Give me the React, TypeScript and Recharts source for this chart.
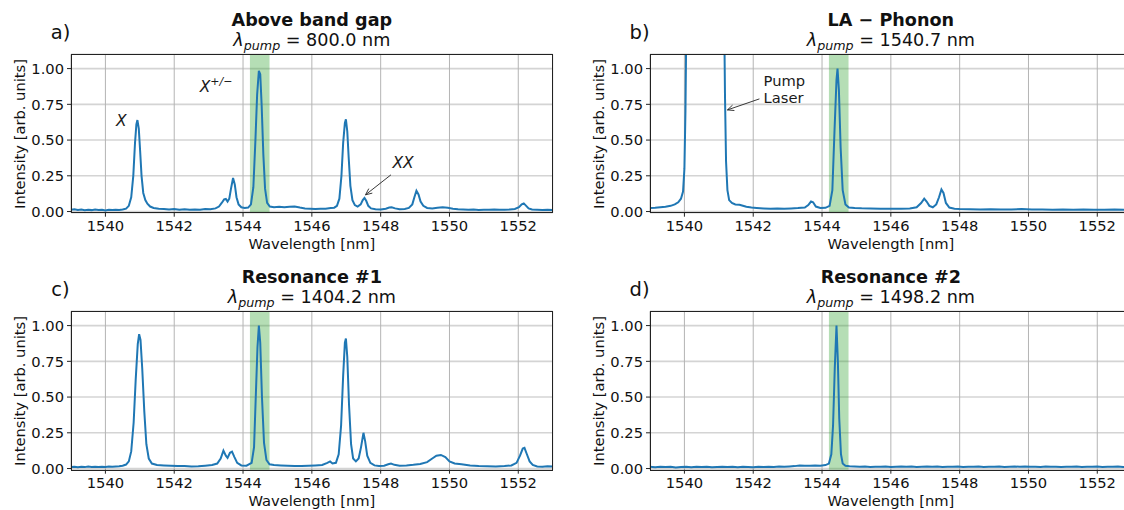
import React from "react";
import {
  LineChart,
  Line,
  XAxis,
  YAxis,
  CartesianGrid,
  ReferenceArea,
  ReferenceLine,
  ReferenceDot,
} from "recharts";

const FONT = '"DejaVu Sans", Verdana, sans-serif';
const BLUE = "#1f77b4";

const wavelengthTicks = [1540, 1542, 1544, 1546, 1548, 1550, 1552];
const intensityTicks = [0, 0.25, 0.5, 0.75, 1];
const pumpBand = [1544.2, 1544.77];

const panelLetters = ["a)", "b)", "c)", "d)"];
const panelTitles = ["Above band gap", "LA \u2212 Phonon", "Resonance #1", "Resonance #2"];
const pumpWavelengths = ["800.0", "1540.7", "1404.2", "1498.2"];

// [wavelength nm, intensity]
const spectrumA: [number, number][] = [
  [1539.0, 0.012], [1539.1, 0.016], [1539.2, 0.011], [1539.3, 0.014], [1539.4, 0.009],
  [1539.5, 0.013], [1539.6, 0.01], [1539.7, 0.015], [1539.8, 0.011], [1539.9, 0.012],
  [1540.0, 0.008], [1540.1, 0.013], [1540.2, 0.01], [1540.3, 0.012], [1540.4, 0.011],
  [1540.5, 0.014], [1540.6, 0.02], [1540.68, 0.04], [1540.75, 0.1], [1540.81, 0.25],
  [1540.86, 0.48], [1540.9, 0.61], [1540.93, 0.64], [1540.97, 0.58], [1541.01, 0.42],
  [1541.05, 0.25], [1541.1, 0.13], [1541.16, 0.08], [1541.22, 0.055], [1541.3, 0.035],
  [1541.4, 0.025], [1541.55, 0.02], [1541.7, 0.018], [1541.85, 0.015], [1542.0, 0.017],
  [1542.15, 0.013], [1542.3, 0.016], [1542.45, 0.012], [1542.6, 0.015], [1542.75, 0.013],
  [1542.9, 0.017], [1543.05, 0.016], [1543.2, 0.022], [1543.3, 0.035], [1543.38, 0.06],
  [1543.45, 0.085], [1543.5, 0.088], [1543.55, 0.07], [1543.6, 0.09], [1543.65, 0.16],
  [1543.71, 0.235], [1543.76, 0.19], [1543.81, 0.1], [1543.87, 0.05], [1543.95, 0.03],
  [1544.05, 0.025], [1544.15, 0.028], [1544.23, 0.05], [1544.3, 0.17], [1544.36, 0.5],
  [1544.41, 0.82], [1544.46, 0.985], [1544.5, 0.96], [1544.54, 0.75], [1544.59, 0.4],
  [1544.64, 0.16], [1544.7, 0.06], [1544.78, 0.035], [1544.9, 0.03], [1545.05, 0.033],
  [1545.2, 0.03], [1545.35, 0.034], [1545.5, 0.036], [1545.65, 0.028], [1545.8, 0.022],
  [1545.95, 0.02], [1546.1, 0.018], [1546.25, 0.02], [1546.4, 0.019], [1546.55, 0.024],
  [1546.65, 0.027], [1546.73, 0.04], [1546.8, 0.09], [1546.86, 0.25], [1546.91, 0.48],
  [1546.96, 0.62], [1546.99, 0.645], [1547.03, 0.56], [1547.07, 0.38], [1547.12, 0.18],
  [1547.18, 0.08], [1547.25, 0.045], [1547.33, 0.035], [1547.42, 0.05], [1547.48, 0.08],
  [1547.53, 0.095], [1547.58, 0.075], [1547.64, 0.04], [1547.72, 0.022], [1547.85, 0.016],
  [1548.0, 0.015], [1548.15, 0.02], [1548.25, 0.028], [1548.32, 0.03], [1548.42, 0.022],
  [1548.55, 0.016], [1548.7, 0.018], [1548.82, 0.025], [1548.92, 0.05], [1548.98, 0.1],
  [1549.04, 0.145], [1549.1, 0.12], [1549.16, 0.07], [1549.24, 0.04], [1549.35, 0.025],
  [1549.5, 0.022], [1549.65, 0.027], [1549.8, 0.03], [1549.95, 0.026], [1550.1, 0.02],
  [1550.25, 0.016], [1550.4, 0.014], [1550.55, 0.012], [1550.7, 0.014], [1550.85, 0.011],
  [1551.0, 0.013], [1551.15, 0.012], [1551.3, 0.014], [1551.45, 0.012], [1551.6, 0.013],
  [1551.75, 0.015], [1551.9, 0.018], [1552.02, 0.03], [1552.1, 0.05], [1552.16, 0.057],
  [1552.23, 0.04], [1552.3, 0.022], [1552.4, 0.014], [1552.55, 0.012], [1552.7, 0.01],
  [1552.85, 0.012], [1553.0, 0.01],
];

// pump laser goes far off scale between ~1540.05 and ~1541.17
const spectrumB: [number, number][] = [
  [1539.0, 0.025], [1539.15, 0.027], [1539.3, 0.03], [1539.45, 0.033], [1539.6, 0.04],
  [1539.72, 0.05], [1539.82, 0.065], [1539.9, 0.09], [1539.96, 0.14], [1540.0, 0.3],
  [1540.03, 0.7], [1540.06, 1.4], [1540.1, 3.0], [1540.3, 6.0], [1540.6, 8.0],
  [1540.9, 6.0], [1541.1, 3.0], [1541.15, 1.5], [1541.18, 0.8], [1541.21, 0.35],
  [1541.25, 0.15], [1541.3, 0.08], [1541.38, 0.06], [1541.48, 0.05], [1541.6, 0.047],
  [1541.7, 0.04], [1541.8, 0.033], [1541.95, 0.028], [1542.1, 0.025], [1542.3, 0.022],
  [1542.5, 0.02], [1542.7, 0.021], [1542.9, 0.019], [1543.1, 0.022], [1543.3, 0.024],
  [1543.5, 0.028], [1543.6, 0.045], [1543.68, 0.07], [1543.74, 0.065], [1543.82, 0.035],
  [1543.95, 0.025], [1544.1, 0.026], [1544.22, 0.04], [1544.3, 0.15], [1544.36, 0.55],
  [1544.42, 0.92], [1544.45, 1.0], [1544.49, 0.85], [1544.54, 0.45], [1544.6, 0.15],
  [1544.68, 0.05], [1544.78, 0.028], [1544.95, 0.025], [1545.15, 0.023], [1545.4, 0.022],
  [1545.7, 0.02], [1546.0, 0.019], [1546.3, 0.02], [1546.55, 0.022], [1546.75, 0.03],
  [1546.88, 0.06], [1546.97, 0.09], [1547.04, 0.07], [1547.12, 0.04], [1547.22, 0.03],
  [1547.32, 0.05], [1547.4, 0.1], [1547.47, 0.155], [1547.53, 0.13], [1547.6, 0.06],
  [1547.7, 0.028], [1547.85, 0.02], [1548.0, 0.018], [1548.3, 0.016], [1548.6, 0.015],
  [1548.9, 0.016], [1549.2, 0.014], [1549.5, 0.015], [1549.8, 0.017], [1550.1, 0.014],
  [1550.4, 0.015], [1550.7, 0.013], [1551.0, 0.014], [1551.3, 0.012], [1551.6, 0.014],
  [1551.9, 0.013], [1552.2, 0.012], [1552.5, 0.014], [1552.8, 0.012], [1553.0, 0.013],
];

const spectrumC: [number, number][] = [
  [1539.0, 0.01], [1539.1, 0.013], [1539.2, 0.009], [1539.3, 0.012], [1539.4, 0.01],
  [1539.5, 0.014], [1539.6, 0.011], [1539.7, 0.013], [1539.8, 0.01], [1539.9, 0.012],
  [1540.0, 0.011], [1540.1, 0.014], [1540.2, 0.012], [1540.3, 0.015], [1540.4, 0.016],
  [1540.5, 0.02], [1540.6, 0.028], [1540.68, 0.05], [1540.75, 0.12], [1540.82, 0.32],
  [1540.88, 0.62], [1540.94, 0.87], [1540.98, 0.94], [1541.02, 0.9], [1541.07, 0.7],
  [1541.13, 0.4], [1541.19, 0.17], [1541.26, 0.07], [1541.35, 0.035], [1541.5, 0.025],
  [1541.7, 0.022], [1541.9, 0.02], [1542.1, 0.018], [1542.3, 0.017], [1542.5, 0.014],
  [1542.7, 0.016], [1542.9, 0.02], [1543.1, 0.025], [1543.25, 0.035], [1543.35, 0.07],
  [1543.43, 0.125], [1543.5, 0.09], [1543.55, 0.075], [1543.62, 0.11], [1543.68, 0.118],
  [1543.75, 0.08], [1543.83, 0.04], [1543.95, 0.022], [1544.1, 0.02], [1544.25, 0.04],
  [1544.32, 0.15], [1544.37, 0.5], [1544.42, 0.85], [1544.46, 1.0], [1544.5, 0.88],
  [1544.55, 0.5], [1544.61, 0.18], [1544.68, 0.06], [1544.77, 0.03], [1544.9, 0.025],
  [1545.1, 0.022], [1545.3, 0.02], [1545.5, 0.018], [1545.7, 0.017], [1545.9, 0.02],
  [1546.1, 0.022], [1546.3, 0.025], [1546.45, 0.04], [1546.53, 0.05], [1546.6, 0.035],
  [1546.7, 0.04], [1546.78, 0.1], [1546.85, 0.3], [1546.91, 0.65], [1546.96, 0.88],
  [1546.99, 0.91], [1547.03, 0.78], [1547.08, 0.45], [1547.14, 0.17], [1547.2, 0.07],
  [1547.28, 0.05], [1547.36, 0.07], [1547.43, 0.15], [1547.5, 0.25], [1547.55, 0.19],
  [1547.61, 0.09], [1547.7, 0.04], [1547.82, 0.022], [1547.95, 0.018], [1548.1, 0.02],
  [1548.22, 0.03], [1548.3, 0.035], [1548.4, 0.026], [1548.55, 0.02], [1548.75, 0.022],
  [1548.95, 0.026], [1549.15, 0.032], [1549.35, 0.045], [1549.5, 0.07], [1549.62, 0.09],
  [1549.75, 0.095], [1549.88, 0.08], [1550.0, 0.05], [1550.15, 0.035], [1550.35, 0.03],
  [1550.6, 0.022], [1550.85, 0.018], [1551.1, 0.016], [1551.35, 0.015], [1551.6, 0.017],
  [1551.8, 0.022], [1551.95, 0.04], [1552.05, 0.09], [1552.13, 0.14], [1552.18, 0.145],
  [1552.25, 0.1], [1552.33, 0.05], [1552.42, 0.025], [1552.55, 0.015], [1552.7, 0.013],
  [1552.85, 0.016], [1553.0, 0.015],
];

const spectrumD: [number, number][] = [
  [1539.0, 0.012], [1539.15, 0.009], [1539.3, 0.013], [1539.45, 0.01], [1539.6, 0.012],
  [1539.75, 0.008], [1539.9, 0.011], [1540.05, 0.013], [1540.2, 0.009], [1540.35, 0.012],
  [1540.5, 0.01], [1540.65, 0.013], [1540.8, 0.009], [1540.95, 0.011], [1541.1, 0.013],
  [1541.25, 0.01], [1541.4, 0.012], [1541.55, 0.009], [1541.7, 0.013], [1541.85, 0.011],
  [1542.0, 0.009], [1542.15, 0.012], [1542.3, 0.01], [1542.45, 0.013], [1542.6, 0.011],
  [1542.75, 0.014], [1542.9, 0.012], [1543.05, 0.015], [1543.2, 0.017], [1543.35, 0.022],
  [1543.5, 0.02], [1543.65, 0.019], [1543.8, 0.021], [1543.95, 0.02], [1544.1, 0.024],
  [1544.2, 0.035], [1544.27, 0.1], [1544.32, 0.3], [1544.37, 0.7], [1544.42, 1.0],
  [1544.46, 0.75], [1544.5, 0.35], [1544.55, 0.1], [1544.6, 0.035], [1544.68, 0.02],
  [1544.8, 0.016], [1544.95, 0.014], [1545.1, 0.012], [1545.25, 0.014], [1545.4, 0.011],
  [1545.55, 0.013], [1545.7, 0.012], [1545.85, 0.014], [1546.0, 0.011], [1546.15, 0.013],
  [1546.3, 0.015], [1546.45, 0.012], [1546.6, 0.014], [1546.75, 0.011], [1546.9, 0.013],
  [1547.05, 0.015], [1547.2, 0.012], [1547.35, 0.014], [1547.5, 0.011], [1547.65, 0.013],
  [1547.8, 0.012], [1547.95, 0.014], [1548.1, 0.011], [1548.25, 0.013], [1548.4, 0.012],
  [1548.55, 0.014], [1548.7, 0.011], [1548.85, 0.013], [1549.0, 0.012], [1549.15, 0.014],
  [1549.3, 0.011], [1549.45, 0.013], [1549.6, 0.015], [1549.75, 0.012], [1549.9, 0.014],
  [1550.05, 0.012], [1550.2, 0.013], [1550.35, 0.011], [1550.5, 0.014], [1550.65, 0.012],
  [1550.8, 0.013], [1550.95, 0.011], [1551.1, 0.013], [1551.25, 0.012], [1551.4, 0.014],
  [1551.55, 0.011], [1551.7, 0.013], [1551.85, 0.012], [1552.0, 0.014], [1552.15, 0.011],
  [1552.3, 0.013], [1552.45, 0.012], [1552.6, 0.014], [1552.75, 0.011], [1552.9, 0.013],
  [1553.0, 0.012],
];

const spectra = [spectrumA, spectrumB, spectrumC, spectrumD];

// layout of one subplot
const CHART_W = 560;
const Y_AXIS_W = 71;
const PLOT_W = 481.7;
const PLOT_TOP = 54.3;
const PLOT_H = 158.4;
const X_AXIS_H = 40;
const CHART_H = PLOT_TOP + PLOT_H + X_AXIS_H;
const panelPos = [
  { left: 0, top: 0 },
  { left: 579, top: 0 },
  { left: 0, top: 257.4 },
  { left: 579, top: 257.4 },
];

function Arrow(props: any) {
  const { x1, y1, x2, y2 } = props;
  const ang = Math.atan2(y2 - y1, x2 - x1);
  const len = 7;
  const spread = 0.42;
  const a = [x2 - len * Math.cos(ang - spread), y2 - len * Math.sin(ang - spread)];
  const b = [x2 - len * Math.cos(ang + spread), y2 - len * Math.sin(ang + spread)];
  return (
    <g stroke="#222" strokeWidth={0.9} fill="none">
      <line x1={x1} y1={y1} x2={x2} y2={y2} />
      <polyline points={`${a[0]},${a[1]} ${x2},${y2} ${b[0]},${b[1]}`} />
    </g>
  );
}

const textLabel =
  (content: React.ReactNode, anchor: "start" | "middle" = "middle", italic = true) =>
  (p: any) => (
    <text
      x={p.cx}
      y={p.cy}
      textAnchor={anchor}
      dominantBaseline="central"
      fontFamily={FONT}
      fontSize={italic ? 15.5 : 14.7}
      fontStyle={italic ? "italic" : "normal"}
      fill="#1a1a1a"
    >
      {content}
    </text>
  );

function annotations(i: number) {
  if (i === 0) {
    return [
      <ReferenceDot key="x" x={1540.46} y={0.636} r={0} shape={textLabel("X")} />,
      <ReferenceDot
        key="xpm"
        x={1542.74}
        y={0.87}
        r={0}
        shape={textLabel(
          <>
            X
            <tspan dy={-6} fontSize={11}>
              +/−
            </tspan>
          </>,
          "start"
        )}
      />,
      <ReferenceDot key="xx" x={1548.65} y={0.34} r={0} shape={textLabel("XX")} />,
      <ReferenceLine
        key="arr"
        segment={[
          { x: 1548.3, y: 0.257 },
          { x: 1547.56, y: 0.117 },
        ]}
        shape={Arrow}
      />,
    ];
  }
  if (i === 1) {
    return [
      <ReferenceDot key="p1" x={1542.3} y={0.92} r={0} shape={textLabel("Pump", "start", false)} />,
      <ReferenceDot key="p2" x={1542.3} y={0.8} r={0} shape={textLabel("Laser", "start", false)} />,
      <ReferenceLine
        key="arr"
        segment={[
          { x: 1542.18, y: 0.788 },
          { x: 1541.25, y: 0.711 },
        ]}
        shape={Arrow}
      />,
    ];
  }
  return [];
}

function Panel({ i }: { i: number }) {
  const pos = panelPos[i];
  const data = spectra[i].map(([w, v]) => ({ w, v }));
  const cx = Y_AXIS_W + PLOT_W / 2;
  const abs = (x: number, y: number): React.CSSProperties => ({
    position: "absolute",
    left: pos.left + x,
    top: pos.top + y,
    transform: "translate(-50%, -50%)",
    whiteSpace: "nowrap",
    lineHeight: 1,
    color: "#111",
  });
  return (
    <>
      <div style={{ position: "absolute", left: pos.left, top: pos.top }}>
        <LineChart
          width={CHART_W}
          height={CHART_H}
          data={data}
          margin={{ top: PLOT_TOP, right: CHART_W - Y_AXIS_W - PLOT_W, bottom: 0, left: 0 }}
        >
          <CartesianGrid vertical={false} stroke="#d4d4d4" strokeWidth={1.6} />
          <CartesianGrid horizontal={false} stroke="#b4b4b4" strokeWidth={1} />
          <XAxis
            dataKey="w"
            type="number"
            domain={[1539, 1553]}
            allowDataOverflow
            ticks={wavelengthTicks}
            height={X_AXIS_H}
            axisLine={false}
            tickLine={{ stroke: "#222" }}
            tickSize={4}
            tickMargin={4}
            tick={{ fontSize: 14.7, fill: "#111", fontFamily: FONT }}
          />
          <YAxis
            type="number"
            domain={[-0.008, 1.1]}
            allowDataOverflow
            ticks={intensityTicks}
            width={Y_AXIS_W}
            axisLine={false}
            tickLine={{ stroke: "#222" }}
            tickSize={4}
            tickMargin={3}
            tickFormatter={(v: number) => v.toFixed(2)}
            tick={{ fontSize: 14.7, fill: "#111", fontFamily: FONT }}
          />
          <ReferenceArea x1={pumpBand[0]} x2={pumpBand[1]} fill="#2ca02c" fillOpacity={0.35} stroke="none" />
          <Line
            type="linear"
            dataKey="v"
            stroke={BLUE}
            strokeWidth={2}
            dot={false}
            isAnimationActive={false}
          />
          {annotations(i)}
        </LineChart>
      </div>
      <div
        style={{
          position: "absolute",
          left: pos.left + Y_AXIS_W - 0.5,
          top: pos.top + PLOT_TOP - 0.5,
          width: PLOT_W + 1,
          height: PLOT_H + 1,
          border: "1px solid #222",
          boxSizing: "border-box",
          pointerEvents: "none",
        }}
      />
      <div style={{ ...abs(cx, 21), fontSize: 17.6, fontWeight: "bold" }}>{panelTitles[i]}</div>
      <div style={{ ...abs(cx, 42), fontSize: 17.6 }}>
        <i>λ</i>
        <span style={{ fontStyle: "italic", fontSize: "0.72em", verticalAlign: "-0.3em" }}>pump</span>
        <span> = {pumpWavelengths[i]} nm</span>
      </div>
      <div style={{ ...abs(60.5, 33), fontSize: 19.5 }}>{panelLetters[i]}</div>
      <div style={{ ...abs(cx, 244), fontSize: 14.7 }}>Wavelength [nm]</div>
      <div
        style={{
          ...abs(20, PLOT_TOP + PLOT_H / 2),
          fontSize: 14.7,
          transform: "translate(-50%, -50%) rotate(-90deg)",
        }}
      >
        Intensity [arb. units]
      </div>
    </>
  );
}

export default function App() {
  return (
    <div
      style={{
        position: "absolute",
        left: 0,
        top: 0,
        width: 1124,
        height: 510,
        overflow: "hidden",
        background: "#fff",
        fontFamily: FONT,
      }}
    >
      {[0, 1, 2, 3].map((i) => (
        <Panel key={i} i={i} />
      ))}
    </div>
  );
}
